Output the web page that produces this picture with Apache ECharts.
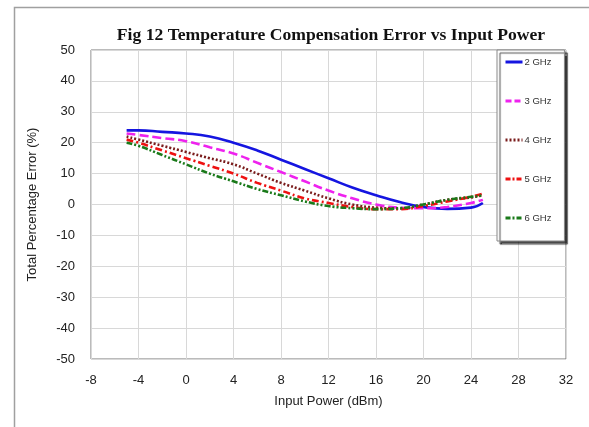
<!DOCTYPE html>
<html>
<head>
<meta charset="utf-8">
<script src="https://cdn.jsdelivr.net/npm/echarts@6/dist/echarts.min.js"></script>
<style>html,body{margin:0;padding:0;background:#fff}#c{width:589px;height:427px}</style>
</head>
<body>
<div id="c"></div>
<script>
const xPower = [-5, -4, -2, 0, 2, 4, 6, 8, 10, 12, 14, 16, 18, 20, 22, 24, 25];
const ghz2 = [24, 24, 23.5, 23, 22, 20, 17.5, 14.5, 11.5, 8.5, 5.5, 3, 0.8, -0.8, -1.4, -1, 0.5];
const ghz3 = [23, 22.5, 21.5, 20.5, 18.5, 16.5, 13.5, 10.5, 7.5, 4.5, 2, 0, -1, -1.2, -0.8, 0.5, 1.5];
const ghz4 = [22, 21, 19, 17, 15, 13, 10, 7, 4.5, 2, 0, -1, -1.3, 0, 1.5, 2.3, 3];
const ghz5 = [21, 20, 17.5, 15, 12.5, 10, 7, 4.5, 2, 0.5, -0.8, -1.5, -1.5, -0.5, 1, 2.5, 3.5];
const ghz6 = [20, 19, 16, 13, 10, 7.5, 5, 3, 1, -0.5, -1.2, -1.5, -1.2, 0, 1.5, 2.5, 3];
const seriesNames = ['2 GHz', '3 GHz', '4 GHz', '5 GHz', '6 GHz'];
const xTicks = [-8, -4, 0, 4, 8, 12, 16, 20, 24, 28, 32];
const yTicks = [-50, -40, -30, -20, -10, 0, 10, 20, 30, 40, 50];

const allData = [ghz2, ghz3, ghz4, ghz5, ghz6];
const colors = ['#1515e0', '#ee22ee', '#7a1c1c', '#ee1111', '#1a7a1a'];
const dashes = ['solid', [9, 4], [2, 2], [7, 3, 2, 3], [6, 2, 2, 2, 2, 2]];
const legendDashes = ['solid', [6, 3], [2, 2], [5, 2, 2, 2], [5, 2, 2, 2]];

const chart = echarts.init(document.getElementById('c'), null, {renderer: 'canvas'});
const series = seriesNames.map((n, i) => ({
  name: n,
  type: 'line',
  smooth: true,
  symbol: 'none',
  data: xPower.map((x, j) => [x, allData[i][j]]),
  lineStyle: {color: colors[i], width: 2.6, type: dashes[i]},
  itemStyle: {color: colors[i]}
}));

chart.setOption({
  animation: false,
  backgroundColor: '#fff',
  graphic: [{
    type: 'rect', left: 12, top: 5, z: -1,
    shape: {width: 620, height: 500},
    style: {fill: 'none', stroke: '#a0a0a0', lineWidth: 1.5}
  }],
  title: {
    text: 'Fig 12 Temperature Compensation Error vs Input Power',
    left: 326, top: 21, textAlign: 'center',
    textStyle: {fontFamily: 'Liberation Serif', fontWeight: 'bold', fontSize: 17.6, color: '#111'}
  },
  legend: {
    orient: 'vertical',
    left: 497, top: 50,
    itemWidth: 17, itemHeight: 10, itemGap: 29,
    padding: [7, 13, 18, 7],
    backgroundColor: '#fff',
    borderColor: '#888', borderWidth: 1,
    shadowColor: 'rgba(0,0,0,0.7)', shadowOffsetX: 3, shadowOffsetY: 3, shadowBlur: 1,
    itemStyle: {opacity: 0},
    textStyle: {fontFamily: 'Liberation Sans', fontSize: 9.5, color: '#333', padding: [0, 0, 0, -3]},
    data: seriesNames.map((n, i) => ({name: n, lineStyle: {width: 3, type: legendDashes[i], color: colors[i]}}))
  },
  grid: {left: 91, top: 50, width: 475, height: 309, show: true, borderColor: '#777', borderWidth: 1},
  xAxis: {
    type: 'value', min: xTicks[0], max: xTicks[xTicks.length - 1], interval: 4,
    name: 'Input Power (dBm)', nameLocation: 'middle', nameGap: 36,
    nameTextStyle: {fontFamily: 'Liberation Sans', fontSize: 13, color: '#222'},
    axisLine: {show: false}, axisTick: {show: false},
    axisLabel: {fontFamily: 'Liberation Sans', fontSize: 13, color: '#222', margin: 15},
    splitLine: {lineStyle: {color: '#d8d8d8', width: 1}}
  },
  yAxis: {
    type: 'value', min: yTicks[0], max: yTicks[yTicks.length - 1], interval: 10,
    name: 'Total Percentage Error (%)', nameLocation: 'middle', nameGap: 52,
    nameTextStyle: {fontFamily: 'Liberation Sans', fontSize: 13, color: '#222'},
    axisLine: {show: false}, axisTick: {show: false},
    axisLabel: {fontFamily: 'Liberation Sans', fontSize: 13, color: '#222', margin: 16},
    splitLine: {lineStyle: {color: '#d8d8d8', width: 1}}
  },
  series: series
});
</script>
</body>
</html>
